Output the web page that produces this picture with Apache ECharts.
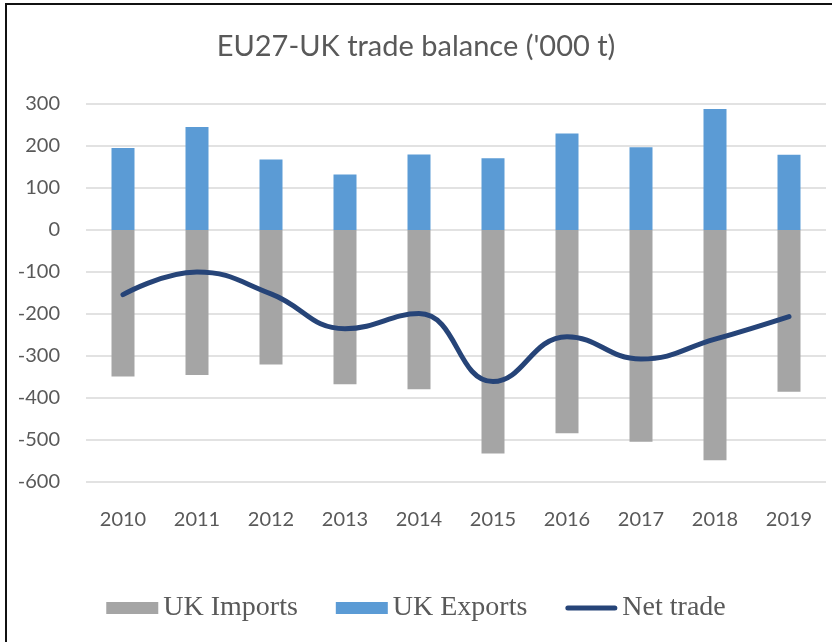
<!DOCTYPE html>
<html>
<head>
<meta charset="utf-8">
<script src="https://cdn.jsdelivr.net/npm/echarts@6/dist/echarts.min.js"></script>
<style>
  html, body { margin: 0; padding: 0; background: #fff; }
  #frame { position: absolute; left: 5px; top: 3px; width: 827px; height: 639px;
    border-left: 2px solid #111; border-top: 2px solid #111; }
  #chart { position: absolute; left: 0; top: 0; width: 832px; height: 642px; }
</style>
</head>
<body>
<div id="frame"></div>
<div id="chart"></div>
<script>
const years = ['2010', '2011', '2012', '2013', '2014', '2015', '2016', '2017', '2018', '2019'];
const ukImports = [-349, -345, -320, -367, -379, -532, -484, -504, -548, -385];
const ukExports = [195, 245, 168, 132, 180, 171, 230, 197, 288, 179];
const netTrade = [-154, -100, -152, -235, -199, -361, -254, -307, -260, -206];
const yTicks = { min: -600, max: 300, interval: 100 };

// rounded thick stroke inside a 52x12 box, for the line's legend key
const lineKey = 'path://M0,0 M52,12 M2.5,3.5 L49.5,3.5 A2.5,2.5 0 0 1 49.5,8.5 L2.5,8.5 A2.5,2.5 0 0 1 2.5,3.5 Z';

const chart = echarts.init(document.getElementById('chart'));
chart.setOption({
  animation: false,
  title: {
    text: "EU27-UK trade balance ('000 t)",
    left: 'center', top: 27,
    textStyle: { color: '#595959', fontSize: 29, fontWeight: 'normal', fontFamily: 'Lato' }
  },
  legend: {
    bottom: 15, left: 'center',
    itemWidth: 52, itemHeight: 12, itemGap: 38, itemTextGap: 6,
    textStyle: { color: '#595959', fontSize: 28, fontFamily: "'Liberation Serif', serif" },
    data: [
      { name: 'UK Imports', icon: 'rect' },
      { name: 'UK Exports', icon: 'rect' },
      { name: 'Net trade', icon: lineKey }
    ]
  },
  grid: { left: 86, right: 6, top: 104, bottom: 160 },
  xAxis: {
    type: 'category', data: years,
    axisLine: { show: false, onZero: false },
    axisTick: { show: false },
    axisLabel: { color: '#595959', fontSize: 20, fontFamily: 'Lato', margin: 28 }
  },
  yAxis: {
    type: 'value', ...yTicks,
    axisLine: { show: false },
    axisTick: { show: false },
    splitLine: { lineStyle: { color: '#D9D9D9', width: 1.5 } },
    axisLabel: { color: '#595959', fontSize: 20, fontFamily: 'Lato', margin: 26 }
  },
  series: [
    { name: 'UK Imports', type: 'bar', stack: 'trade', data: ukImports, barWidth: 23,
      itemStyle: { color: '#A5A5A5' } },
    { name: 'UK Exports', type: 'bar', stack: 'trade', data: ukExports, barWidth: 23,
      itemStyle: { color: '#5B9BD5' } },
    { name: 'Net trade', type: 'line', data: netTrade, smooth: 0.45, symbol: 'none',
      lineStyle: { width: 5, color: '#264478', cap: 'round' },
      itemStyle: { color: '#264478' } }
  ]
});
</script>
</body>
</html>
